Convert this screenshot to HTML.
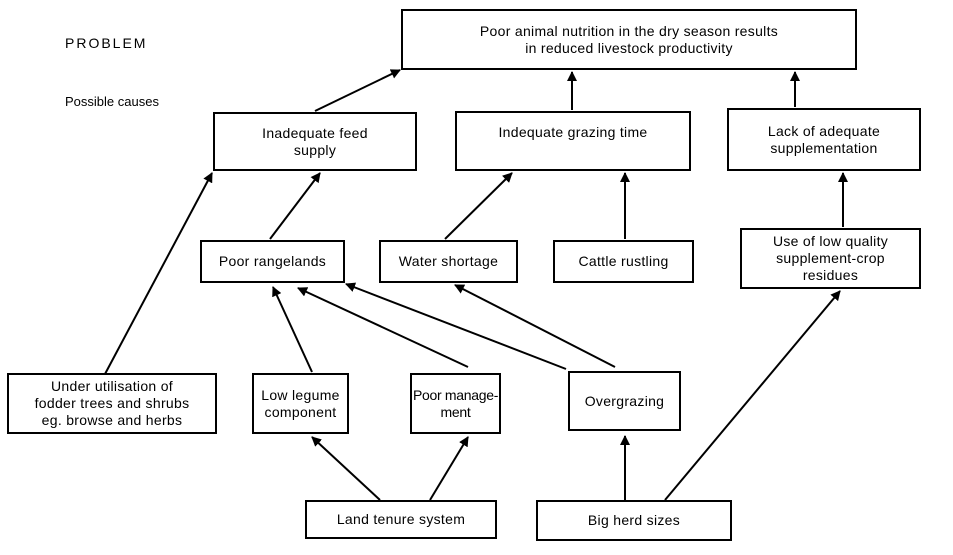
<!DOCTYPE html>
<html><head><style>
body{margin:0;background:#fff;width:953px;height:555px;overflow:hidden;position:relative;font-family:"Liberation Sans",sans-serif;}
.b{position:absolute;border:2px solid #000;box-sizing:border-box;display:flex;align-items:center;justify-content:center;text-align:center;font-size:14px;line-height:17px;letter-spacing:0.3px;color:#000;white-space:nowrap;}
.t{position:absolute;font-size:14px;color:#000;}
svg{position:absolute;left:0;top:0;}
</style></head><body>
<svg width="953" height="555">
<defs><marker id="a" markerWidth="10" markerHeight="10" refX="9" refY="5" orient="auto" markerUnits="userSpaceOnUse"><path d="M0,0 L10,5 L0,10 z" fill="#000"/></marker></defs>
<g stroke="#000" stroke-width="2" fill="none" marker-end="url(#a)">
<line x1="315" y1="111" x2="400" y2="70"/>
<line x1="572" y1="110" x2="572" y2="72"/>
<line x1="795" y1="107" x2="795" y2="72"/>
<line x1="105" y1="374" x2="212" y2="173"/>
<line x1="270" y1="239" x2="320" y2="173"/>
<line x1="445" y1="239" x2="512" y2="173"/>
<line x1="625" y1="239" x2="625" y2="173"/>
<line x1="843" y1="227" x2="843" y2="173"/>
<line x1="312" y1="372" x2="273" y2="287"/>
<line x1="468" y1="367" x2="298" y2="288"/>
<line x1="566" y1="369" x2="346" y2="284"/>
<line x1="615" y1="367" x2="455" y2="285"/>
<line x1="665" y1="500" x2="840" y2="291"/>
<line x1="625" y1="500" x2="625" y2="436"/>
<line x1="380" y1="500" x2="312" y2="437"/>
<line x1="430" y1="500" x2="468" y2="437"/>
</g></svg>
<div class="t" style="left:65px;top:35px;letter-spacing:2px;">PROBLEM</div>
<div class="t" style="left:65px;top:94px;font-size:13px;">Possible causes</div>
<div class="b" style="left:401px;top:9px;width:456px;height:61px;">Poor animal nutrition in the dry season results<br>in reduced livestock productivity</div>
<div class="b" style="left:213px;top:112px;width:204px;height:59px;">Inadequate feed<br>supply</div>
<div class="b" style="left:455px;top:111px;width:236px;height:60px;padding-bottom:18px;">Indequate grazing time</div>
<div class="b" style="left:727px;top:108px;width:194px;height:63px;">Lack of adequate<br>supplementation</div>
<div class="b" style="left:200px;top:240px;width:145px;height:43px;">Poor rangelands</div>
<div class="b" style="left:379px;top:240px;width:139px;height:43px;">Water shortage</div>
<div class="b" style="left:553px;top:240px;width:141px;height:43px;">Cattle rustling</div>
<div class="b" style="left:740px;top:228px;width:181px;height:61px;">Use of low quality<br>supplement-crop<br>residues</div>
<div class="b" style="left:7px;top:373px;width:210px;height:61px;">Under utilisation of<br>fodder trees and shrubs<br>eg. browse and herbs</div>
<div class="b" style="left:252px;top:373px;width:97px;height:61px;">Low legume<br>component</div>
<div class="b" style="left:410px;top:373px;width:91px;height:61px;letter-spacing:-0.3px;">Poor manage-<br>ment</div>
<div class="b" style="left:568px;top:371px;width:113px;height:60px;">Overgrazing</div>
<div class="b" style="left:305px;top:500px;width:192px;height:39px;">Land tenure system</div>
<div class="b" style="left:536px;top:500px;width:196px;height:41px;">Big herd sizes</div>
</body></html>
